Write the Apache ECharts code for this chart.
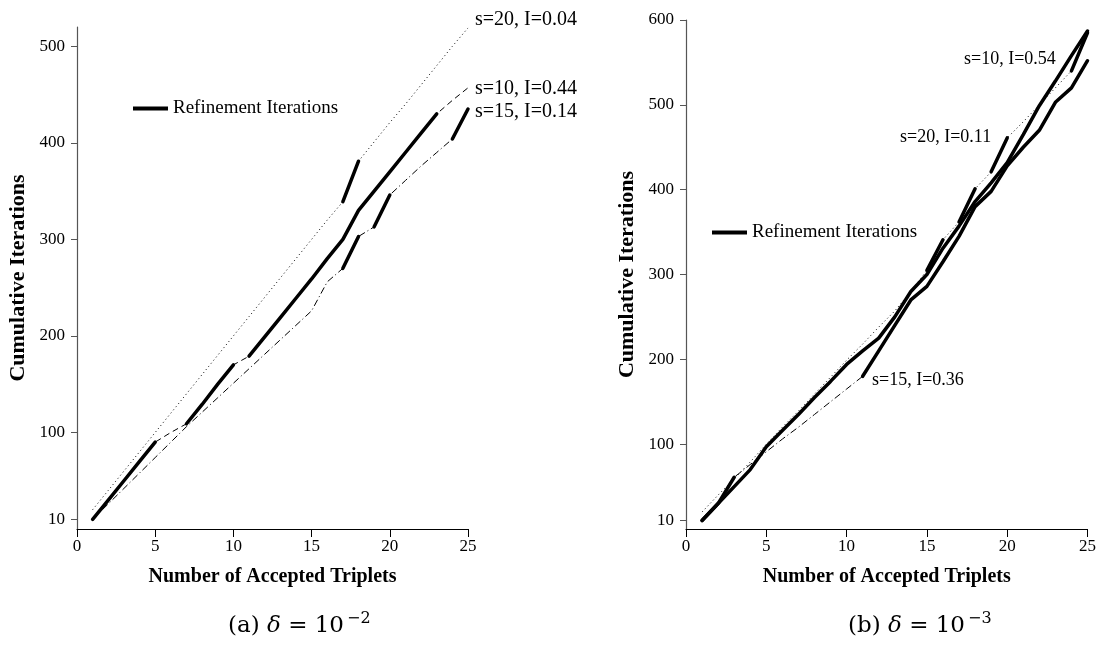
<!DOCTYPE html>
<html>
<head>
<meta charset="utf-8">
<script src="https://cdn.jsdelivr.net/npm/echarts@6/dist/echarts.min.js"></script>
<style>
  html, body { margin: 0; padding: 0; background: #fff; }
  #main { width: 1099px; height: 656px; }
</style>
</head>
<body>
<div id="main"></div>
<script>
// number of accepted triplets
const xValues = [1, 2, 3, 4, 5, 6, 7, 8, 9, 10, 11, 12, 13, 14, 15, 16, 17, 18, 19, 20, 21, 22, 23, 24, 25]

// (a) delta = 1e-2
const leftS20 = [20, 40, 60, 80, 100, 120, 140, 160, 180, 200, 220, 240, 260, 280, 300, 320, 339, 381, 401, 421, 440, 460, 480, 500, 519]
const leftS10 = [10, 30, 50, 70, 90, 100, 109, 129, 150, 170, 179, 199, 219, 239, 259, 280, 300, 330, 350, 370, 390, 410, 430, 444, 457]
const leftS15 = [10, 26, 42, 58, 74, 90, 106, 121, 136, 151, 166, 181, 196, 211, 226, 256, 270, 303, 313, 346, 361, 376, 390, 404, 435]
// refinement stretches, [from x, to x]
const leftS20Ref = [[17, 18]]
const leftS10Ref = [[1, 5], [7, 10], [11, 23]]
const leftS15Ref = [[17, 18], [19, 20], [24, 25]]

// (b) delta = 1e-3
const rightS10 = [10, 30, 50, 70, 97, 116, 135, 155, 174, 194, 210, 225, 250, 280, 300, 331, 357, 386, 408, 432, 465, 499, 528, 558, 587]
const rightS20 = [20, 40, 59, 79, 100, 120, 139, 159, 179, 199, 218, 238, 257, 280, 305, 341, 362, 401, 421, 461, 480, 500, 520, 540, 585]
const rightS15 = [10, 30, 61, 76, 91, 106, 120, 135, 150, 165, 180, 210, 240, 270, 286, 315, 345, 380, 398, 428, 450, 470, 503, 520, 552]
const rightS10Ref = [[1, 25]]
const rightS20Ref = [[15, 16], [17, 18], [19, 20], [24, 25]]
const rightS15Ref = [[1, 3], [11, 25]]

const leftTicks = [10, 100, 200, 300, 400, 500]
const rightTicks = [10, 100, 200, 300, 400, 500, 600]

const FONT = 'Liberation Serif'
const REF = 'Refinement Iterations'

function pairs(vals) {
  return xValues.map((x, i) => [x, vals[i]])
}

function thinLine(vals, dash, idx) {
  return {
    type: 'line', xAxisIndex: idx, yAxisIndex: idx,
    data: pairs(vals), symbol: 'none', silent: true,
    lineStyle: { color: '#000', width: 1, type: dash }
  }
}

// thick pieces for refinement iterations, one series per stretch
function thickLines(vals, ranges, idx) {
  return ranges.map(r => ({
    name: REF, type: 'line', xAxisIndex: idx, yAxisIndex: idx,
    data: pairs(vals).filter(p => p[0] >= r[0] && p[0] <= r[1]),
    symbol: 'none', silent: true, color: '#000',
    lineStyle: { color: '#000', width: 3.5, cap: 'round' }
  }))
}

function xAxisCfg(idx) {
  return {
    gridIndex: idx, type: 'value', min: 0, max: 25, interval: 5,
    name: 'Number of Accepted Triplets', nameLocation: 'middle', nameGap: 38,
    nameTextStyle: { fontFamily: FONT, fontWeight: 'bold', fontSize: 20, color: '#000' },
    axisLine: { lineStyle: { color: '#000', width: 1.2 } },
    axisTick: { inside: false, length: 8, lineStyle: { color: '#000' } },
    axisLabel: { fontFamily: FONT, fontSize: 17, color: '#000', margin: 9 },
    splitLine: { show: false }
  }
}

function yAxisCfg(idx, max, ticks) {
  return {
    gridIndex: idx, type: 'value', min: 0, max: max,
    name: 'Cumulative Iterations', nameLocation: 'middle', nameGap: 48,
    nameTextStyle: { fontFamily: FONT, fontWeight: 'bold', fontSize: 22, color: '#000' },
    axisLine: { show: true, lineStyle: { color: '#555', width: 1.2 } },
    axisTick: { show: true, inside: false, length: 6, customValues: ticks, lineStyle: { color: '#555' } },
    axisLabel: { fontFamily: FONT, fontSize: 17, color: '#000', margin: 12, customValues: ticks },
    splitLine: { show: false }
  }
}

function note(text, x, y, size) {
  return {
    type: 'text', left: x, top: y - size / 2 + 2,
    style: { text: text, font: size + 'px "Liberation Serif"', fill: '#000' }
  }
}

function caption(letter, exp, x) {
  return {
    type: 'text', left: x, top: 611,
    style: {
      text: '(' + letter + ') {d|δ} = 10{s|−' + exp + '}',
      font: '23px "DejaVu Serif"', fill: '#000',
      rich: {
        d: { fontFamily: 'DejaVu Serif', fontStyle: 'italic', fontSize: 23 },
        s: { fontFamily: 'DejaVu Serif', fontSize: 16, verticalAlign: 'top', padding: [0, 0, 14, 3] }
      }
    }
  }
}

const myChart = echarts.init(document.getElementById('main'))

const option = {
  animation: false,
  backgroundColor: '#fff',
  textStyle: { fontFamily: FONT },
  grid: [
    { left: 77, top: 27, width: 391, height: 502 },
    { left: 686, top: 20, width: 403, height: 509 }
  ],
  legend: [
    {
      left: 128, top: 94, data: [REF], icon: 'rect', itemWidth: 35, itemHeight: 4,
      textStyle: { fontFamily: FONT, fontSize: 19, color: '#000' }, selectedMode: false
    },
    {
      left: 707, top: 218, data: [REF], icon: 'rect', itemWidth: 35, itemHeight: 4,
      textStyle: { fontFamily: FONT, fontSize: 19, color: '#000' }, selectedMode: false
    }
  ],
  xAxis: [xAxisCfg(0), xAxisCfg(1)],
  yAxis: [yAxisCfg(0, 520, leftTicks), yAxisCfg(1, 600, rightTicks)],
  series: [].concat(
    thinLine(leftS20, [1, 3], 0),
    thinLine(leftS10, [6, 4], 0),
    thinLine(leftS15, [7, 3, 1, 3], 0),
    thickLines(leftS20, leftS20Ref, 0),
    thickLines(leftS10, leftS10Ref, 0),
    thickLines(leftS15, leftS15Ref, 0),
    thinLine(rightS20, [1, 3], 1),
    thinLine(rightS10, [6, 4], 1),
    thinLine(rightS15, [7, 3, 1, 3], 1),
    thickLines(rightS20, rightS20Ref, 1),
    thickLines(rightS10, rightS10Ref, 1),
    thickLines(rightS15, rightS15Ref, 1)
  ),
  graphic: [
    note('s=20, I=0.04', 475, 18, 20),
    note('s=10, I=0.44', 475, 87, 20),
    note('s=15, I=0.14', 475, 110, 20),
    note('s=10, I=0.54', 964, 57, 18),
    note('s=20, I=0.11', 900, 135, 18),
    note('s=15, I=0.36', 872, 378, 18),
    caption('a', 2, 228),
    caption('b', 3, 848)
  ]
}

myChart.setOption(option)
window.addEventListener('resize', function () {
  myChart.resize()
})
</script>
</body>
</html>
